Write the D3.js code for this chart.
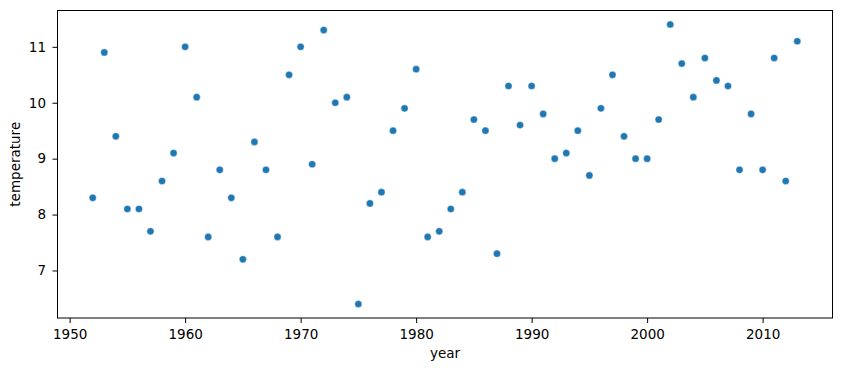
<!DOCTYPE html>
<html>
<head>
<meta charset="utf-8">
<script src="https://cdn.jsdelivr.net/npm/d3@7"></script>
<style>
  body { margin: 0; background: #fff; }
  svg { display: block; }
  text { font-family: "DejaVu Sans", sans-serif; fill: #000; }
</style>
</head>
<body>
<div id="chart"></div>
<script>
// Data
const years = [
  1952, 1953, 1954, 1955, 1956, 1957, 1958, 1959, 1960, 1961,
  1962, 1963, 1964, 1965, 1966, 1967, 1968, 1969, 1970, 1971,
  1972, 1973, 1974, 1975, 1976, 1977, 1978, 1979, 1980, 1981,
  1982, 1983, 1984, 1985, 1986, 1987, 1988, 1989, 1990, 1991,
  1992, 1993, 1994, 1995, 1996, 1997, 1998, 1999, 2000, 2001,
  2002, 2003, 2004, 2005, 2006, 2007, 2008, 2009, 2010, 2011,
  2012, 2013
];
const temperatures = [
  8.3, 10.9, 9.4, 8.1, 8.1, 7.7, 8.6, 9.1, 11.0, 10.1,
  7.6, 8.8, 8.3, 7.2, 9.3, 8.8, 7.6, 10.5, 11.0, 8.9,
  11.3, 10.0, 10.1, 6.4, 8.2, 8.4, 9.5, 9.9, 10.6, 7.6,
  7.7, 8.1, 8.4, 9.7, 9.5, 7.3, 10.3, 9.6, 10.3, 9.8,
  9.0, 9.1, 9.5, 8.7, 9.9, 10.5, 9.4, 9.0, 9.0, 9.7,
  11.4, 10.7, 10.1, 10.8, 10.4, 10.3, 8.8, 9.8, 8.8, 10.8,
  8.6, 11.1
];
const xTicks = [1950, 1960, 1970, 1980, 1990, 2000, 2010];
const yTicks = [7, 8, 9, 10, 11];

const width = 842, height = 371;
const margin = { top: 10.5, right: 9.5, bottom: 53, left: 57.5 };

const svg = d3.select('#chart').append('svg')
  .attr('width', width)
  .attr('height', height);

// matplotlib-style 5% padding around the data
const xExt = d3.extent(years), yExt = d3.extent(temperatures);
const xPad = (xExt[1] - xExt[0]) * 0.05, yPad = (yExt[1] - yExt[0]) * 0.05;

const x = d3.scaleLinear()
  .domain([xExt[0] - xPad, xExt[1] + xPad])
  .range([margin.left, width - margin.right]);
const y = d3.scaleLinear()
  .domain([yExt[0] - yPad, yExt[1] + yPad])
  .range([height - margin.bottom, margin.top]);

// Axes
const xAxis = svg.append('g')
  .attr('transform', `translate(0,${height - margin.bottom})`)
  .call(d3.axisBottom(x).tickValues(xTicks).tickFormat(d3.format('d')).tickSize(5).tickPadding(6));
const yAxis = svg.append('g')
  .attr('transform', `translate(${margin.left},0)`)
  .call(d3.axisLeft(y).tickValues(yTicks).tickFormat(d3.format('d')).tickSize(5).tickPadding(6.5));

[xAxis, yAxis].forEach(a => {
  a.select('.domain').remove();
  a.selectAll('line').attr('stroke', '#000').attr('stroke-width', 1);
  a.selectAll('text').style('font-size', '13.5px').style('font-family', '"DejaVu Sans", sans-serif');
});

// Frame
svg.append('rect')
  .attr('x', margin.left)
  .attr('y', margin.top)
  .attr('width', width - margin.left - margin.right)
  .attr('height', height - margin.top - margin.bottom)
  .attr('fill', 'none')
  .attr('stroke', '#000')
  .attr('stroke-width', 1);

// Points
svg.append('g')
  .selectAll('circle')
  .data(years.map((yr, i) => ({ year: yr, temp: temperatures[i] })))
  .join('circle')
  .attr('cx', d => x(d.year))
  .attr('cy', d => y(d.temp))
  .attr('r', 3.6)
  .attr('fill', '#1f77b4')
  .attr('stroke', '#ffffff')
  .attr('stroke-width', 0.4);

// Axis labels
svg.append('text')
  .attr('x', (margin.left + width - margin.right) / 2)
  .attr('y', 358)
  .attr('text-anchor', 'middle')
  .style('font-size', '13.5px')
  .text('year');

svg.append('text')
  .attr('transform', `translate(20,${(margin.top + height - margin.bottom) / 2}) rotate(-90)`)
  .attr('text-anchor', 'middle')
  .style('font-size', '13.5px')
  .text('temperature');
</script>
</body>
</html>
